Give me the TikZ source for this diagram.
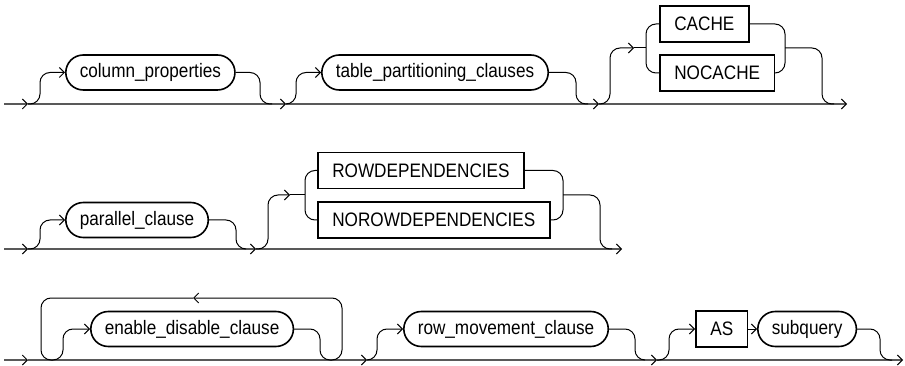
\documentclass[tikz,border=0pt]{standalone}
\usepackage{fontspec}
\setmainfont{Liberation Sans}[FakeStretch=0.88]
\usetikzlibrary{arrows.meta}

\begin{document}
\begin{tikzpicture}[x=1pt,y=-1pt,
  font=\fontsize{19.5}{22}\selectfont,
  nt/.style={draw,line width=1.6pt,rounded corners=17.5pt,minimum height=35pt,inner xsep=14pt,inner ysep=0pt,anchor=west},
  kw/.style={draw,line width=1.6pt,minimum height=36pt,inner xsep=14.5pt,inner ysep=0pt,anchor=west},
  rail/.style={line width=1.3pt,black!65},
  lnk/.style={line width=1pt,rounded corners=10pt},
  arr/.style={-{Straight Barb[length=5pt,width=10pt,line width=1pt,color=black]}}]
  \useasboundingbox (0,0) rectangle (905,366);
  % row 1
  \coordinate (r1s) at (4,104);   \coordinate (j11) at (28,104);
  \coordinate (j12) at (272,104); \coordinate (j13) at (286,104);
  \coordinate (j14) at (588,104); \coordinate (j15) at (599,104);
  \coordinate (c1in) at (634,48); \coordinate (c1f) at (646,48);
  \coordinate (c1out) at (785,48);
  \coordinate (j16) at (834,104); \coordinate (r1e) at (847,104);
  \node[nt] (colprop) at (65,72.5) {column\_properties};
  \node[nt] (tabpart) at (321,72.5) {table\_partitioning\_clauses};
  \node[kw] (cache) at (659,24) {CACHE};
  \node[kw] (nocache) at (659,73) {NOCACHE};
  \draw[rail,arr] (r1s) -- (j11);
  \draw[rail,arr] (j11) -- (j13);
  \draw[rail,arr] (j13) -- (j15);
  \draw[rail,arr] (j15) -- (r1e);
  \draw[lnk,arr] (j11) -- ++(12,0) |- (colprop.west);
  \draw[lnk] (colprop.east) -| ([xshift=-12pt]j12) -- (j12);
  \draw[lnk,arr] (j13) -- ++(10,0) |- (tabpart.west);
  \draw[lnk] (tabpart.east) -| ([xshift=-12pt]j14) -- (j14);
  \draw[lnk,arr] (j15) -- ++(11,0) |- (c1in);
  \draw[lnk] (c1in) -- (c1f);
  \draw[lnk] (cache.west) -| (c1f) |- (nocache.west);
  \draw[lnk] (cache.east) -| (c1out) |- (nocache.east);
  \draw[lnk] (c1out) -| ([xshift=-12pt]j16) -- (j16);
  % row 2
  \coordinate (r2s) at (4,249);   \coordinate (j21) at (28,249);
  \coordinate (j22) at (246,249); \coordinate (j23) at (256,249);
  \coordinate (c2in) at (290,195); \coordinate (c2f) at (305,195);
  \coordinate (c2out) at (563,195);
  \coordinate (j24) at (612,249); \coordinate (r2e) at (622,249);
  \node[nt] (parclause) at (65,220) {parallel\_clause};
  \node[kw] (rowdep) at (317,170.5) {ROWDEPENDENCIES};
  \node[kw] (norowdep) at (317,220) {NOROWDEPENDENCIES};
  \draw[rail,arr] (r2s) -- (j21);
  \draw[rail,arr] (j21) -- (j23);
  \draw[rail,arr] (j23) -- (r2e);
  \draw[lnk,arr] (j21) -- ++(12,0) |- (parclause.west);
  \draw[lnk] (parclause.east) -| ([xshift=-10pt]j22) -- (j22);
  \draw[lnk,arr] (j23) -- ++(12,0) |- (c2in);
  \draw[lnk] (c2in) -- (c2f);
  \draw[lnk] (rowdep.west) -| (c2f) |- (norowdep.west);
  \draw[lnk] (rowdep.east) -| (c2out) |- (norowdep.east);
  \draw[lnk] (c2out) -| ([xshift=-12pt]j24) -- (j24);
  % row 3
  \coordinate (r3s) at (4,360);   \coordinate (j31) at (28,360);
  \coordinate (j3a) at (52,360);  \coordinate (lpm) at (193,298);
  \coordinate (j3b) at (331,360); \coordinate (j33) at (367,360);
  \coordinate (j34) at (645,360); \coordinate (j35) at (657,360);
  \coordinate (j36) at (892,360); \coordinate (r3e) at (903,360);
  \node[nt] (endis) at (90,329) {enable\_disable\_clause};
  \node[nt] (rowmove) at (403,329) {row\_movement\_clause};
  \node[kw] (as) at (695,329) {AS};
  \node[nt] (subq) at (757,329) {subquery};
  \draw[rail,arr] (r3s) -- (j31);
  \draw[rail,arr] (j31) -- (j33);
  \draw[rail,arr] (j33) -- (j35);
  \draw[rail,arr] (j35) -- (r3e);
  \draw[lnk,arr] (j3a) -- ++(11,0) |- (endis.west);
  \draw[lnk] (endis.east) -| ([xshift=-11pt]j3b) -- (j3b);
  \draw[lnk,arr] (j3b) -- ++(11,0) |- (lpm);
  \draw[lnk] (lpm) -| ([xshift=-11pt]j3a) -- (j3a);
  \draw[lnk,arr] (j33) -- ++(10,0) |- (rowmove.west);
  \draw[lnk] (rowmove.east) -| ([xshift=-10pt]j34) -- (j34);
  \draw[lnk,arr] (j35) -- ++(12,0) |- (as.west);
  \draw[lnk,arr] (as) -- (subq);
  \draw[lnk] (subq.east) -| ([xshift=-12pt]j36) -- (j36);
\end{tikzpicture}
\end{document}
